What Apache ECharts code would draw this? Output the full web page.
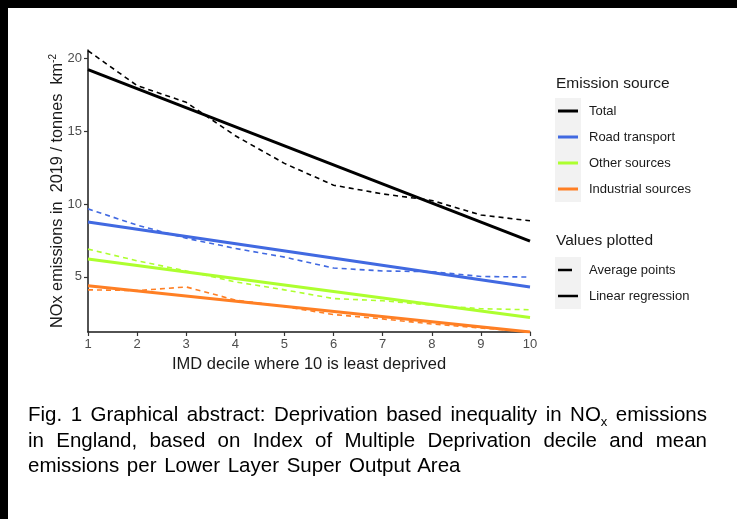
<!DOCTYPE html>
<html>
<head>
<meta charset="utf-8">
<script src="https://cdn.jsdelivr.net/npm/echarts@6/dist/echarts.min.js"></script>
<style>
  body { margin: 0; background: #fff; }
  #main { position: absolute; left: 0; top: 0; width: 737px; height: 519px; }
  .cap { position: absolute; left: 28px; width: 679px; font-family: 'Liberation Sans', sans-serif;
         font-size: 20.5px; color: #000; white-space: nowrap; }
  .just { text-align: justify; text-align-last: justify; }
</style>
</head>
<body>
<div id="main"></div>
<div class="cap just" style="top:402px;word-spacing:-1px">Fig. 1 Graphical abstract: Deprivation based inequality in NO<sub style="font-size:13px">x</sub> emissions</div>
<div class="cap just" style="top:428px">in England, based on Index of Multiple Deprivation decile and mean</div>
<div class="cap" style="top:453px;word-spacing:2px">emissions per Lower Layer Super Output Area</div>
<script>
// IMD deciles
var deciles = [1, 2, 3, 4, 5, 6, 7, 8, 9, 10];
var sources = ['Total', 'Road transport', 'Other sources', 'Industrial sources'];
var colours = ['#000000', '#4169E1', '#ADFF2F', '#FF7F24'];

// average points per decile
var avgTotal = [20.55, 18.15, 17.0, 14.7, 12.8, 11.3, 10.7, 10.25, 9.25, 8.85];
var avgRoad = [9.67, 8.55, 7.65, 6.95, 6.35, 5.6, 5.4, 5.35, 5.02, 4.98];
var avgOther = [6.9, 6.1, 5.4, 4.65, 4.1, 3.5, 3.35, 3.05, 2.8, 2.73];
var avgIndustrial = [4.1, 4.05, 4.3, 3.4, 2.95, 2.4, 2.1, 1.75, 1.47, 1.22];

// linear regression, value at decile 1 and decile 10
var regEnds = [1, 10];
var regTotal = [19.25, 7.45];
var regRoad = [8.76, 4.3];
var regOther = [6.22, 2.2];
var regIndustrial = [4.38, 1.2];

var yTicks = [5, 10, 15, 20];

var avgData = [avgTotal, avgRoad, avgOther, avgIndustrial];
var regData = [regTotal, regRoad, regOther, regIndustrial];

function pairs(xs, ys) {
  return xs.map(function (x, i) { return [x, ys[i]]; });
}

var series = [];
sources.forEach(function (name, i) {
  series.push({
    name: name + ' avg', type: 'line', data: pairs(deciles, avgData[i]),
    showSymbol: false, silent: true, z: 2,
    lineStyle: { color: colours[i], width: 1.6, type: [5, 4] }
  });
});
sources.forEach(function (name, i) {
  series.push({
    name: name, type: 'line', data: pairs(regEnds, regData[i]),
    showSymbol: false, silent: true, z: 3,
    lineStyle: { color: colours[i], width: 3 }
  });
});

// legend drawn by hand (ggplot style with grey key boxes)
var txt = { fill: '#1a1a1a', fontFamily: 'Liberation Sans', fontSize: 13, verticalAlign: 'middle' };
var graphics = [
  { type: 'rect', shape: { x: 0, y: 0, width: 737, height: 8 }, style: { fill: '#000' } },
  { type: 'rect', shape: { x: 0, y: 0, width: 8, height: 519 }, style: { fill: '#000' } },
  { type: 'text', x: 556, y: 84, style: Object.assign({}, txt, { text: 'Emission source', fontSize: 15.5 }) },
  { type: 'rect', shape: { x: 555, y: 98, width: 26, height: 104 }, style: { fill: '#f2f2f2' } },
  { type: 'text', x: 556, y: 241, style: Object.assign({}, txt, { text: 'Values plotted', fontSize: 15.5 }) },
  { type: 'rect', shape: { x: 555, y: 257, width: 26, height: 52 }, style: { fill: '#f2f2f2' } }
];
sources.forEach(function (name, i) {
  var y = 111 + i * 26;
  graphics.push({ type: 'line', shape: { x1: 558, y1: y, x2: 578, y2: y }, style: { stroke: colours[i], lineWidth: 3 } });
  graphics.push({ type: 'text', x: 589, y: y, style: Object.assign({}, txt, { text: name }) });
});
graphics.push({ type: 'line', shape: { x1: 558, y1: 270, x2: 578, y2: 270 }, style: { stroke: '#000', lineWidth: 2.5, lineDash: [14, 10] } });
graphics.push({ type: 'text', x: 589, y: 270, style: Object.assign({}, txt, { text: 'Average points' }) });
graphics.push({ type: 'line', shape: { x1: 558, y1: 296, x2: 578, y2: 296 }, style: { stroke: '#000', lineWidth: 2.5 } });
graphics.push({ type: 'text', x: 589, y: 296, style: Object.assign({}, txt, { text: 'Linear regression' }) });

var myChart = echarts.init(document.getElementById('main'));
var option = {
  backgroundColor: '#fff',
  animation: false,
  grid: { left: 88, top: 50, right: 207, bottom: 187 },
  xAxis: {
    type: 'value', min: 1, max: 10, interval: 1,
    name: 'IMD decile where 10 is least deprived', nameLocation: 'middle', nameGap: 22,
    nameTextStyle: { color: '#1a1a1a', fontSize: 16.5, fontFamily: 'Liberation Sans' },
    axisLine: { lineStyle: { color: '#1a1a1a', width: 1.5 } },
    axisTick: { show: true, length: 4, lineStyle: { color: '#333', width: 1.2 } },
    axisLabel: { color: '#4d4d4d', fontSize: 13, fontFamily: 'Liberation Sans', margin: 6 },
    splitLine: { show: false }
  },
  yAxis: {
    type: 'value', min: 1.2, max: 20.6,
    name: 'NOx emissions in  2019 / tonnes  km{sup|-2}', nameLocation: 'middle', nameGap: 21,
    nameMoveOverlap: false,
    nameTextStyle: {
      color: '#1a1a1a', fontSize: 16.3, fontFamily: 'Liberation Sans',
      rich: { sup: { fontSize: 10, color: '#1a1a1a', fontFamily: 'Liberation Sans', verticalAlign: 'top', padding: [0, 0, 9, 0] } }
    },
    axisLine: { show: true, lineStyle: { color: '#1a1a1a', width: 1.5 } },
    axisTick: { show: true, length: 4, customValues: yTicks, lineStyle: { color: '#333', width: 1.2 } },
    axisLabel: { color: '#4d4d4d', fontSize: 13, fontFamily: 'Liberation Sans', margin: 6, customValues: yTicks },
    splitLine: { show: false }
  },
  graphic: graphics,
  series: series
};
myChart.setOption(option);
</script>
</body>
</html>
